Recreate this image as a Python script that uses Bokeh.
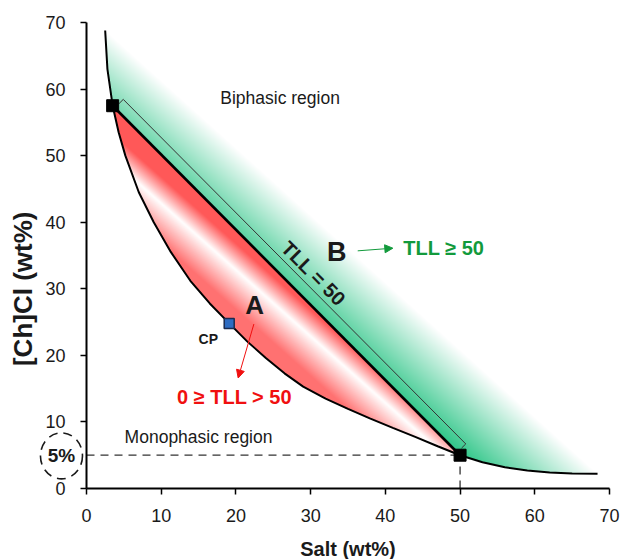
import numpy as np
from bokeh.plotting import figure
from bokeh.models import Range1d, FixedTicker, Arrow, NormalHead, LinearAxis
from bokeh.embed import file_html
from bokeh.resources import INLINE
from bokeh.core.properties import value

# ---------------- data ----------------
binodal_salt = [2.5, 2.8, 3.5, 4.3, 5.2, 7.0, 9.0, 11.3, 13.9, 16.5, 19.1, 21.5, 24.0,
                26.5, 29.0, 32.0, 35.0, 38.0, 41.0, 44.0, 47.0, 50.0, 53.0, 56.0,
                59.0, 62.0, 65.0, 68.4]
binodal_ch = [68.8, 63.0, 57.5, 53.5, 50.0, 44.5, 40.0, 35.5, 31.2, 27.8, 24.8, 22.1, 19.6,
              17.3, 15.3, 13.5, 11.95, 10.5, 9.1, 7.75, 6.35, 5.0, 3.95, 3.2,
              2.7, 2.4, 2.25, 2.2]
tie_salt = [3.5, 50.0]
tie_ch = [57.5, 5.0]
cp_salt = [19.1]
cp_ch = [24.8]
outer_salt = [2.8, 68.4]   # outer limit of the TLL >= 50 zone
outer_ch = [68.5, 2.2]
white_salt = [7.63, 44.7]  # white band of the red gradient
white_ch = [45.2, 8.2]
limit_salt = 50.0
limit_ch = 5.0
ticks = [0, 10, 20, 30, 40, 50, 60, 70]

FONT = "Liberation Sans"
PLOT_W, PLOT_H = 621, 559
AX_LEFT, AX_RIGHT = 86, 609     # screen x of salt = 0 and salt = 70
TOP, BOTTOM = 22, 488           # screen y of [Ch]Cl = 70 and 0
W_AX = AX_RIGHT - AX_LEFT
H_AX = BOTTOM - TOP
ppx = W_AX / 70.0
ppy = H_AX / 70.0

# the frame covers the whole canvas; axes are pinned at 0
p = figure(width=PLOT_W, height=PLOT_H, output_backend="svg", toolbar_location=None,
           x_range=Range1d(-AX_LEFT / ppx, (PLOT_W - AX_LEFT) / ppx),
           y_range=Range1d(-(PLOT_H - BOTTOM) / ppy, BOTTOM / ppy),
           x_axis_location=None, y_axis_location=None,
           min_border_left=0, min_border_right=0, min_border_top=0, min_border_bottom=0)
p.outline_line_color = None
p.grid.visible = False
p.background_fill_color = "white"
p.border_fill_color = "white"

# ---------------- gradient fills (image) ----------------
bx = np.array(binodal_salt)
by = np.array(binodal_ch)
xs = (np.arange(W_AX) + 0.5) * 70.0 / W_AX
ys = (np.arange(H_AX) + 0.5) * 70.0 / H_AX
X, Y = np.meshgrid(xs, ys)
curve_y = np.interp(X, bx, by)
t_slope = (tie_ch[1] - tie_ch[0]) / (tie_salt[1] - tie_salt[0])
tie_y = tie_ch[0] + t_slope * (X - tie_salt[0])
o_slope = (outer_ch[1] - outer_ch[0]) / (outer_salt[1] - outer_salt[0])
outer_y = outer_ch[0] + o_slope * (X - outer_salt[0])
w_slope = (white_ch[1] - white_ch[0]) / (white_salt[1] - white_salt[0])
white_y = white_ch[0] + w_slope * (X - white_salt[0])

inside_x = (X >= bx[0]) & (X <= bx[-1])
above_curve = (Y > curve_y) & inside_x
red_mask = above_curve & (Y < tie_y) & (X >= tie_salt[0]) & (X <= tie_salt[1])
green_mask = above_curve & (Y < outer_y) & ~red_mask

v = Y - white_y
ri = np.where(v > 0, np.clip(v / 4.0, 0, 1), 0.85 * np.clip(-v / 6.0, 0, 1))
gi = 0.95 * np.clip((outer_y - Y) / 15.0, 0, 1)

red_col = np.array([255, 88, 88], dtype=float)
green_col = np.array([45, 198, 135], dtype=float)
white = np.array([255, 255, 255], dtype=float)

rgb = np.full(X.shape + (3,), 255.0)
rgb = np.where(red_mask[..., None], white * (1 - ri[..., None]) + red_col * ri[..., None], rgb)
rgb = np.where(green_mask[..., None], white * (1 - gi[..., None]) + green_col * gi[..., None], rgb)
alpha = np.where(red_mask | green_mask, 255, 0)

img = np.zeros(X.shape, dtype=np.uint32)
view = img.view(dtype=np.uint8).reshape(X.shape + (4,))
view[..., 0] = rgb[..., 0].astype(np.uint8)
view[..., 1] = rgb[..., 1].astype(np.uint8)
view[..., 2] = rgb[..., 2].astype(np.uint8)
view[..., 3] = alpha.astype(np.uint8)
p.image_rgba(image=[img], x=0, y=0, dw=70, dh=70)

# ---------------- lines ----------------
p.line([0, limit_salt], [limit_ch, limit_ch], line_color="#333333", line_width=1.3, line_dash="8 6")
p.line([limit_salt, limit_salt], [0, limit_ch], line_color="#333333", line_width=1.3, line_dash="8 6")
p.line(binodal_salt, binodal_ch, line_color="black", line_width=2)
p.line(tie_salt, tie_ch, line_color="black", line_width=2.6)

# bracket parallel to the tie line (offsets in screen pixels)
dxp = (tie_salt[1] - tie_salt[0]) * ppx
dyp = (tie_ch[1] - tie_ch[0]) * ppy
L = np.hypot(dxp, dyp)
ux, uy = dxp / L, dyp / L        # along the tie line (screen, y up)
nx, ny = -uy, ux                 # normal (upper right)
def off(x0, y0, along, normal):
    return (x0 + (along * ux + normal * nx) / ppx, y0 + (along * uy + normal * ny) / ppy)
b1 = off(tie_salt[0], tie_ch[0], 3, 6)
b2 = off(tie_salt[0], tie_ch[0], 3, 12)
b3 = off(tie_salt[1], tie_ch[1], -4, 12)
b4 = off(tie_salt[1], tie_ch[1], -4, 6)
p.line([b1[0], b2[0], b3[0], b4[0]], [b1[1], b2[1], b3[1], b4[1]], line_color="#333333", line_width=1)

# ---------------- markers ----------------
p.scatter(tie_salt, tie_ch, marker="square", size=12, fill_color="black", line_color="black")
p.scatter(cp_salt, cp_ch, marker="square", size=10, fill_color="#2e6cc2", line_color="#1b2b4f", line_width=1.5)

# ---------------- axes ----------------
yax = LinearAxis(fixed_location=0)
xax = LinearAxis(fixed_location=0)
p.add_layout(yax, "left")
p.add_layout(xax, "below")
for ax in (xax, yax):
    ax.bounds = (0, 70)
    ax.ticker = FixedTicker(ticks=ticks)
    ax.major_label_text_font = FONT
    ax.major_label_text_font_size = "18px"
    ax.major_label_text_color = "#1a1a1a"
    ax.axis_line_width = 2
    ax.axis_line_color = "black"
    ax.major_tick_line_color = "black"
    ax.major_tick_line_width = 1.5
    ax.major_tick_in = 0
    ax.major_tick_out = 6
    ax.minor_tick_line_color = None
yax.major_label_standoff = 15
xax.major_label_standoff = 14
xax.axis_label = "Salt (wt%)"
xax.axis_label_text_font = FONT
xax.axis_label_text_font_style = "bold"
xax.axis_label_text_font_size = "20px"
xax.axis_label_text_color = "#1a1a1a"
xax.axis_label_standoff = 13

# ---------------- texts ----------------
def txt(x, y, text, size, color="#1a1a1a", bold=False, align="center", baseline="middle", angle=0.0):
    p.text(x=[x], y=[y], text=[text], text_font=value(FONT), text_font_size=size,
           text_color=color, text_font_style="bold" if bold else "normal",
           text_align=align, text_baseline=baseline, angle=angle)

# y axis title
txt(-8.5, 30.0, "[Ch]Cl (wt%)", "26px", bold=True, angle=np.pi / 2)
# dashed circle around 5 %
p.ellipse(x=[-3.35], y=[limit_ch - 0.1], width=42, height=46, width_units="screen",
          height_units="screen", fill_color=None, line_color="#1a1a1a", line_width=1.6,
          line_dash="9 6")
txt(-3.35, limit_ch - 0.1, "5%", "19px", bold=True)

txt(17.9, 58.7, "Biphasic region", "17.5px", align="left")
txt(5.1, 7.8, "Monophasic region", "17.5px", align="left")
txt(30.4, 32.3, "TLL = 50", "20px", bold=True, angle=-np.arctan2(-dyp, dxp))
txt(33.5, 35.6, "B", "27px", bold=True)
txt(22.5, 27.6, "A", "26px", bold=True)
txt(42.4, 36.2, "TLL \u2265 50", "20px", color="#129a3c", bold=True, align="left")
txt(19.8, 13.8, "0 \u2265 TLL > 50", "20px", color="#f01010", bold=True)
txt(16.3, 22.4, "CP", "14px", bold=True)

# arrows
p.add_layout(Arrow(x_start=36.3, y_start=35.7, x_end=41.0, y_end=36.1,
                   line_color="#129a3c", line_width=1,
                   end=NormalHead(size=8, fill_color="#129a3c", line_color="#129a3c")))
p.add_layout(Arrow(x_start=22.4, y_start=24.7, x_end=20.3, y_end=16.6,
                   line_color="#f01010", line_width=1,
                   end=NormalHead(size=8, fill_color="#f01010", line_color="#f01010")))

open("out.html", "w").write(file_html(p, INLINE))
